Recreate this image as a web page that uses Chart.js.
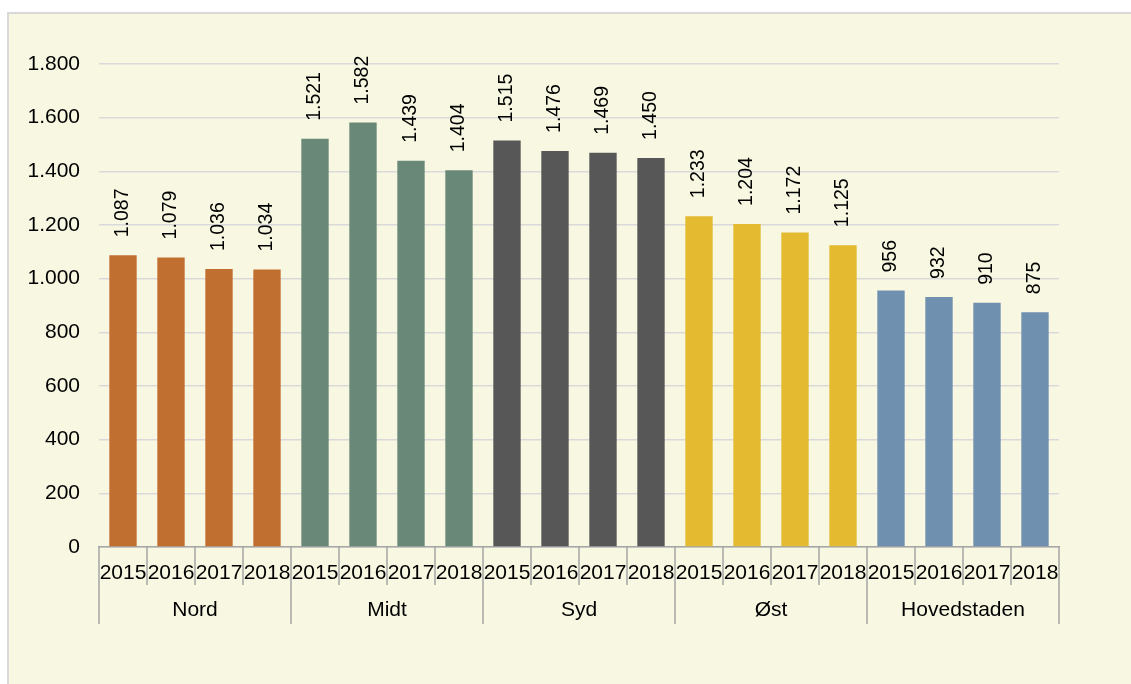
<!DOCTYPE html>
<html>
<head>
<meta charset="utf-8">
<script src="https://cdn.jsdelivr.net/npm/chart.js@4.4.1/dist/chart.umd.min.js"></script>
<style>
html,body{margin:0;padding:0;background:#ffffff;}
#wrap{position:relative;width:1131px;height:684px;}
canvas{display:block;}
</style>
</head>
<body>
<div id="wrap"><canvas id="c" width="1131" height="684"></canvas></div>
<script>
const regions = ['Nord', 'Midt', 'Syd', 'Øst', 'Hovedstaden'];
const years = ['2015', '2016', '2017', '2018'];
const nord = [1087, 1079, 1036, 1034];
const midt = [1521, 1582, 1439, 1404];
const syd = [1515, 1476, 1469, 1450];
const ost = [1233, 1204, 1172, 1125];
const hovedstaden = [956, 932, 910, 875];
const regionColors = ['#C06F30', '#6A8878', '#575757', '#E4BA30', '#7090B0'];
const yTicks = [0, 200, 400, 600, 800, 1000, 1200, 1400, 1600, 1800];

const seriesList = [nord, midt, syd, ost, hovedstaden];
const labels = [];
const values = [];
const colors = [];
seriesList.forEach((s, gi) => {
  s.forEach((v, yi) => {
    labels.push(years[yi]);
    values.push(v);
    colors.push(regionColors[gi]);
  });
});

function fmt(n) {
  return String(n).replace(/\B(?=(\d{3})+(?!\d))/g, '.');
}

const FONT = '"Liberation Sans", Arial, sans-serif';

const bgPlugin = {
  id: 'bg',
  beforeDraw(chart) {
    const ctx = chart.ctx;
    ctx.save();
    ctx.fillStyle = '#ffffff';
    ctx.fillRect(0, 0, chart.width, chart.height);
    ctx.fillStyle = '#F8F8E2';
    ctx.fillRect(7, 12, chart.width - 7, chart.height - 12);
    ctx.fillStyle = '#D9D9D9';
    ctx.fillRect(7, 12, chart.width - 7, 2);
    ctx.fillRect(7, 12, 2, chart.height - 12);
    ctx.restore();
  }
};

const axisPlugin = {
  id: 'groupAxis',
  afterDraw(chart) {
    const ctx = chart.ctx;
    const xs = chart.scales.x;
    const bottom = chart.chartArea.bottom;
    const c0 = xs.getPixelForValue(0);
    const c1 = xs.getPixelForValue(1);
    const slot = c1 - c0;
    ctx.save();
    ctx.strokeStyle = '#A6A6A6';
    ctx.lineWidth = 1.5;
    for (let i = 0; i <= labels.length; i++) {
      const x = c0 - slot / 2 + i * slot;
      const long = i % years.length === 0;
      ctx.beginPath();
      ctx.moveTo(x, bottom);
      ctx.lineTo(x, long ? bottom + 77 : bottom + 38);
      ctx.stroke();
    }
    ctx.fillStyle = '#000000';
    ctx.textAlign = 'center';
    ctx.textBaseline = 'middle';
    ctx.font = '21px ' + FONT;
    labels.forEach((l, i) => {
      ctx.fillText(l, xs.getPixelForValue(i), bottom + 26);
    });
    regions.forEach((r, gi) => {
      const a = xs.getPixelForValue(gi * years.length);
      const b = xs.getPixelForValue(gi * years.length + years.length - 1);
      ctx.fillText(r, (a + b) / 2, bottom + 63);
    });
    // data labels
    const meta = chart.getDatasetMeta(0);
    ctx.font = '19.5px ' + FONT;
    ctx.textAlign = 'left';
    meta.data.forEach((bar, i) => {
      ctx.save();
      ctx.translate(bar.x, bar.y - 18);
      ctx.rotate(-Math.PI / 2);
      ctx.fillText(fmt(values[i]), 0, 0);
      ctx.restore();
    });
    ctx.restore();
  }
};

new Chart(document.getElementById('c'), {
  type: 'bar',
  data: {
    labels: labels,
    datasets: [{
      data: values,
      backgroundColor: colors,
      borderWidth: 0,
      categoryPercentage: 1.0,
      barPercentage: 0.57
    }]
  },
  options: {
    responsive: false,
    animation: false,
    events: [],
    layout: { padding: { top: 64, right: 72, left: 0, bottom: 0 } },
    plugins: { legend: { display: false }, tooltip: { enabled: false } },
    scales: {
      x: {
        offset: true,
        grid: { display: false },
        border: { display: true, color: '#A6A6A6', width: 1.5 },
        ticks: { display: false },
        afterFit(scale) { scale.height = 137; }
      },
      y: {
        min: 0,
        max: 1800,
        afterBuildTicks(scale) { scale.ticks = yTicks.map(v => ({ value: v })); },
        grid: { color: '#D9D9D9', lineWidth: 1.5, drawTicks: false },
        border: { display: false },
        ticks: {
          padding: 19,
          color: '#000000',
          font: { family: FONT, size: 21 },
          callback: (v) => fmt(v)
        },
        afterFit(scale) { scale.width = 99; }
      }
    }
  },
  plugins: [bgPlugin, axisPlugin]
});
</script>
</body>
</html>
